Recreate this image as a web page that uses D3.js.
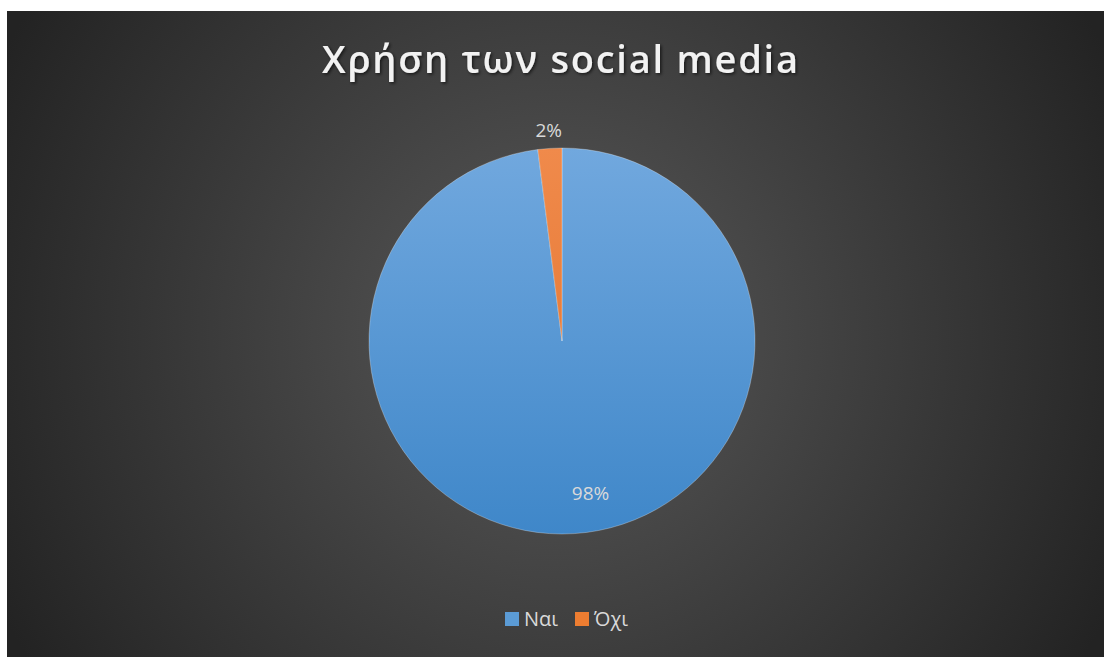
<!DOCTYPE html>
<html>
<head>
<meta charset="utf-8">
<script src="https://cdn.jsdelivr.net/npm/d3@7/dist/d3.min.js"></script>
<style>
  html, body { margin: 0; padding: 0; background: #ffffff; }
  svg { display: block; }
</style>
</head>
<body>
<svg id="chart" width="1104" height="657"></svg>
<script>
// Data
const categories = ["Ναι", "Όχι"];
const values = [98, 2];
const labels = ["98%", "2%"];
const title = "Χρήση των social media";

const sliceColors = ["#5b9bd5", "#ed7d31"];
const sliceGradients = [["#71a8de", "#3f87c9"], ["#f08a4b", "#e0702a"]];
const textColor = "#d9d9d9";

const W = 1104, H = 657;
const frame = { x: 7, y: 11, w: W - 7, h: H - 11 };
const cx = 562, cy = 341, R = 193;

const svg = d3.select("#chart");
const defs = svg.append("defs");

// Background radial gradient
const bg = defs.append("radialGradient").attr("id", "bgGrad")
  .attr("gradientUnits", "userSpaceOnUse")
  .attr("cx", frame.x + frame.w / 2).attr("cy", frame.y + frame.h / 2)
  .attr("r", 620);
bg.append("stop").attr("offset", "0%").attr("stop-color", "#595959");
bg.append("stop").attr("offset", "100%").attr("stop-color", "#232323");

// Slice gradients (lighter at top, deeper at bottom), in pie-local space
sliceGradients.forEach((cols, i) => {
  const lg = defs.append("linearGradient").attr("id", "sliceGrad" + i)
    .attr("gradientUnits", "userSpaceOnUse")
    .attr("x1", 0).attr("y1", -R).attr("x2", 0).attr("y2", R);
  lg.append("stop").attr("offset", "0%").attr("stop-color", cols[0]);
  lg.append("stop").attr("offset", "100%").attr("stop-color", cols[1]);
});

// Title shadow
const shadow = defs.append("filter").attr("id", "titleShadow")
  .attr("x", "-10%").attr("y", "-30%").attr("width", "120%").attr("height", "160%");
shadow.append("feDropShadow").attr("dx", 1.5).attr("dy", 1.5)
  .attr("stdDeviation", 1.5).attr("flood-color", "#000").attr("flood-opacity", 0.6);

svg.append("rect")
  .attr("x", frame.x).attr("y", frame.y)
  .attr("width", frame.w).attr("height", frame.h)
  .attr("fill", "url(#bgGrad)");

// Title
svg.append("text")
  .attr("x", 560).attr("y", 73)
  .attr("text-anchor", "middle")
  .attr("font-family", "'Open Sans', 'Noto Sans', sans-serif")
  .attr("font-weight", 600)
  .attr("font-size", 38)
  .attr("fill", "#f2f2f2")
  .attr("textLength", 476)
  .attr("lengthAdjust", "spacing")
  .attr("filter", "url(#titleShadow)")
  .text(title);

// Pie
const pie = d3.pie().sort(null).value(d => d.value);
const arcs = pie(categories.map((c, i) => ({ cat: c, value: values[i], label: labels[i] })));
const arc = d3.arc().innerRadius(0).outerRadius(R);

const g = svg.append("g").attr("transform", `translate(${cx},${cy})`);
g.selectAll("path.slice")
  .data(arcs)
  .enter().append("path")
  .attr("class", "slice")
  .attr("d", arc)
  .attr("fill", (d, i) => `url(#sliceGrad${i})`)
  .attr("stroke", "rgba(255,255,255,0.35)")
  .attr("stroke-width", 0.8);

// Data labels: large slice inside, small slice just outside the rim
const labelFont = "'Open Sans', 'Noto Sans', sans-serif";
arcs.forEach(d => {
  const mid = (d.startAngle + d.endAngle) / 2;
  let r, dx = 0;
  if (d.data.value > 50) { r = R * 0.79; dx = 19; }
  else { r = R + 18; }
  const x = Math.sin(mid) * r + dx;
  const y = -Math.cos(mid) * r;
  g.append("text")
    .attr("x", x).attr("y", y)
    .attr("text-anchor", "middle")
    .attr("dominant-baseline", "central")
    .attr("font-family", labelFont)
    .attr("font-size", 19)
    .attr("fill", textColor)
    .text(d.data.label);
});

// Legend
const legend = svg.append("g").attr("transform", "translate(505,612)");
const items = legend.selectAll("g").data(categories).enter().append("g")
  .attr("transform", (d, i) => `translate(${i * 70},0)`);
items.append("rect").attr("width", 14).attr("height", 14)
  .attr("fill", (d, i) => sliceColors[i]);
items.append("text")
  .attr("x", 19).attr("y", 14)
  .attr("font-family", labelFont)
  .attr("font-size", 20)
  .attr("fill", textColor)
  .text(d => d);
</script>
</body>
</html>
